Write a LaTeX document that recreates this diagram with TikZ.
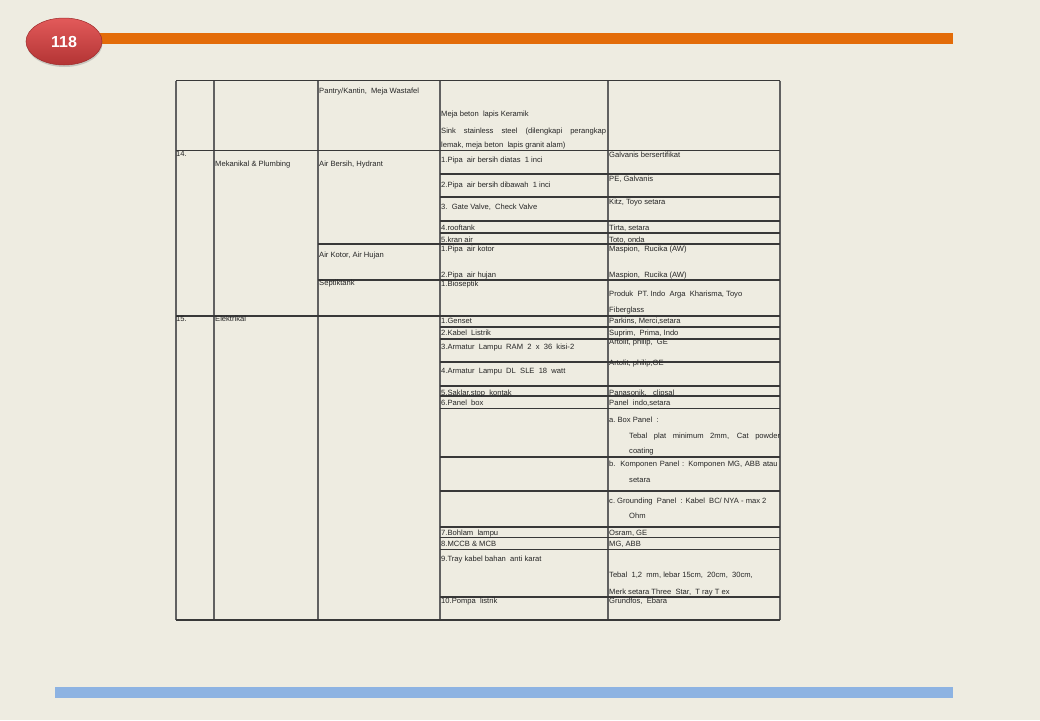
\documentclass[tikz,border=0pt]{standalone}
\usepackage{fontspec}
\setmainfont{Liberation Sans}
\usetikzlibrary{shapes.geometric,shadows}
\definecolor{bg}{HTML}{EEECE1}
\definecolor{orangebar}{HTML}{E36C09}
\definecolor{bluebar}{HTML}{8DB3E2}
\definecolor{badgetop}{HTML}{E25A5A}
\definecolor{badgebot}{HTML}{B33434}
\definecolor{badgeline}{HTML}{9E2B2B}
\begin{document}
\begin{tikzpicture}[x=1pt,y=-1pt,
  txt/.style={anchor=base west, inner sep=0pt, font=\fontsize{7.6}{9}\selectfont, text=black!85},
  vl/.style={draw=black!62, line width=1.4pt},
  hl/.style={draw=black!78, line width=1.1pt}]
\fill[bg] (0,0) rectangle (1040,720);
\useasboundingbox (0,0) rectangle (1040,720);
% header and footer bars
\fill[orangebar] (100,33) rectangle (953,44);
\fill[bluebar] (55,687) rectangle (953,698);
\node[ellipse, minimum width=76pt, minimum height=47pt, inner sep=0pt,
      top color=badgetop, bottom color=badgebot, draw=badgeline, line width=0.5pt,
      drop shadow={shadow xshift=0.5pt, shadow yshift=-2pt, opacity=0.35},
      text=white, font=\fontsize{16}{16}\bfseries\selectfont] (badge) at (64,41.5) {118};
% vertical lines
\foreach \x in {176,214,318,440,608,780} \draw[vl] (\x,80.7) -- (\x,620);
% horizontal lines, full width
\foreach \y in {80.7,150.3,316,620} \draw[hl] (176,\y) -- (780,\y);
% from column 3
\foreach \y in {244,280} \draw[hl] (318,\y) -- (780,\y);
% from column 4
\foreach \y in {174,197,221,233,327,339,362,386,396,408.5,457,491,527,537.5,549.5,597}
  \draw[hl] (440,\y) -- (780,\y);
% texts
\node[txt] (t01) at (319,93) {Pantry/Kantin,\ \ Meja Wastafel};
\node[txt] (t02) at (441,116) {Meja beton\ \ lapis Keramik};
\node[txt] (t03) at (441,133) {\makebox[165pt][s]{Sink stainless steel (dilengkapi perangkap}};
\node[txt] (t04) at (441,147) {lemak, meja beton\ \ lapis granit alam)};
\node[txt] (t05) at (176,156) {14.};
\node[txt] (t06) at (215,166) {Mekanikal \& Plumbing};
\node[txt] (t07) at (319,166) {Air Bersih, Hydrant};
\node[txt] (t08) at (441,162) {1.Pipa\ \ air bersih diatas\ \ 1 inci};
\node[txt] (t09) at (609,157) {Galvanis bersertifikat};
\node[txt] (t10) at (441,187) {2.Pipa\ \ air bersih dibawah\ \ 1 inci};
\node[txt] (t11) at (609,181) {PE, Galvanis};
\node[txt] (t12) at (441,209.7) {3.\ \ Gate Valve,\ \ Check Valve};
\node[txt] (t13) at (609,204.7) {Kitz, Toyo setara};
\node[txt] (t14) at (441,230.3) {4.rooftank};
\node[txt] (t15) at (609,230.3) {Tirta, setara};
\node[txt] (t16) at (441,242.7) {5.kran air};
\node[txt] (t17) at (609,242.7) {Toto, onda};
\node[txt] (t18) at (319,257.3) {Air Kotor, Air Hujan};
\node[txt] (t19) at (441,251.7) {1.Pipa\ \ air kotor};
\node[txt] (t20) at (609,251.7) {Maspion,\ \ Rucika (AW)};
\node[txt] (t21) at (441,277.7) {2.Pipa\ \ air hujan};
\node[txt] (t22) at (609,277.7) {Maspion,\ \ Rucika (AW)};
\node[txt] (t23) at (319,285.7) {Septiktank};
\node[txt] (t24) at (441,286.7) {1.Bioseptik};
\node[txt] (t25) at (609,296.3) {Produk\ \ PT. Indo\ \ Arga\ \ Kharisma, Toyo};
\node[txt] (t26) at (609,312.3) {Fiberglass};
\node[txt] (t27) at (176,321) {15.};
\node[txt] (t28) at (215,321) {Elektrikal};
\node[txt] (t29) at (441,323) {1.Genset};
\node[txt] (t30) at (609,323) {Parkins, Merci,setara};
\node[txt] (t31) at (441,335) {2.Kabel\ \ Listrik};
\node[txt] (t32) at (609,335) {Suprim,\ \ Prima, Indo};
\node[txt] (t33) at (441,349.3) {3.Armatur\ \ Lampu\ \ RAM\ \ 2\ \ x\ \ 36\ \ kisi-2};
\node[txt] (t34) at (609,344.3) {Artolit, philip,\ \ GE};
\node[txt] (t35) at (441,373.3) {4.Armatur\ \ Lampu\ \ DL\ \ SLE\ \ 18\ \ watt};
\node[txt] (t36) at (609,365.7) {Artolit, philip,GE};
\node[txt] (t37) at (441,395) {5.Saklar,stop\ \ kontak};
\node[txt] (t38) at (609,395) {Panasonik,\ \ \ clipsal};
\node[txt] (t39) at (441,405.7) {6.Panel\ \ box};
\node[txt] (t40) at (609,405.7) {Panel\ \ indo,setara};
\node[txt] (t41) at (609,422.7) {a.\ Box\ Panel\ \ :};
\node[txt] (t42) at (629,438.7) {\makebox[151pt][s]{Tebal plat minimum 2mm, Cat powder}};
\node[txt] (t43) at (629,453.3) {coating};
\node[txt] (t44) at (609,466) {\makebox[168.5pt][s]{b. Komponen Panel : Komponen MG, ABB atau}};
\node[txt] (t45) at (629,482) {setara};
\node[txt] (t46) at (609,503) {c.\ Grounding\ \ Panel\ \ : Kabel\ \ BC/\ NYA - max 2};
\node[txt] (t47) at (629,518) {Ohm};
\node[txt] (t48) at (441,535.7) {7.Bohlam\ \ lampu};
\node[txt] (t49) at (609,535.7) {Osram, GE};
\node[txt] (t50) at (441,546.7) {8.MCCB \& MCB};
\node[txt] (t51) at (609,546.7) {MG, ABB};
\node[txt] (t52) at (441,561.7) {9.Tray kabel bahan\ \ anti karat};
\node[txt] (t53) at (609,577.7) {Tebal\ \ 1,2\ \ mm, lebar 15cm,\ \ 20cm,\ \ 30cm,};
\node[txt] (t54) at (609,594) {Merk setara Three\ \ Star,\ \ T ray T ex};
\node[txt] (t55) at (441,603.3) {10.Pompa\ \ listrik};
\node[txt] (t56) at (609,603.3) {Grundfos,\ \ Ebara};
\end{tikzpicture}
\end{document}
